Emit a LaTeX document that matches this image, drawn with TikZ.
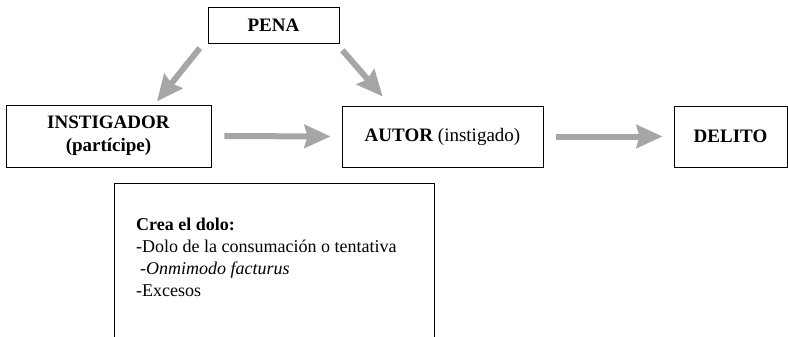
\documentclass[tikz,border=0pt]{standalone}
\usepackage{fontspec}
\setmainfont{Liberation Serif}
\usetikzlibrary{arrows.meta}

\definecolor{arrowgray}{RGB}{166,166,166}

\tikzset{
    box/.style={draw, line width=0.9pt, inner sep=0pt, align=center, font=\fontsize{19}{23}\selectfont},
    flow/.style={draw=arrowgray, line width=6pt, -{Stealth[length=26pt, width=23pt, inset=3pt]}}
}

\begin{document}
\begin{tikzpicture}[x=1pt, y=-1pt]
        \clip (0,0) rectangle (788,337);

        % The boxes of the scheme
        \node[box, minimum width=131pt, minimum height=36pt] (pena) at (273.5,25) {\textbf{PENA}};
        \node[box, minimum width=205pt, minimum height=62pt] (instigador) at (108.5,136) {\textbf{INSTIGADOR}\\\textbf{(partícipe)}};
        \node[box, minimum width=201pt, minimum height=61pt] (autor) at (442.5,136.5) {\textbf{AUTOR} (instigado)};
        \node[box, minimum width=113pt, minimum height=61pt] (delito) at (730.5,136.5) {\textbf{DELITO}};
        \node[box, anchor=north west, minimum width=320pt, minimum height=170pt] (dolo) at (114,183) {};
        \node[anchor=north west, inner sep=0pt, align=left, font=\fontsize{18}{22}\selectfont] (dolotext) at (136,218)
            {\textbf{Crea el dolo:}\\-Dolo de la consumación o tentativa\\\hspace{4pt}\textit{-Onmimodo facturus}\\-Excesos};

        % Gray arrows between the boxes
        \draw[flow, shorten <=6pt, shorten >=4pt] ([xshift=-4pt]pena.south west) -- ([xshift=-57pt]instigador.north east);
        \draw[flow, shorten <=9pt, shorten >=12pt] ([xshift=-3pt]pena.south east) -- ([xshift=49pt]autor.north west);
        \foreach \a/\b in {instigador/autor, autor/delito} {
            \draw[flow, shorten <=13pt, shorten >=11pt] (\a.east) -- (\b.west);
        }
    \end{tikzpicture}
\end{document}
